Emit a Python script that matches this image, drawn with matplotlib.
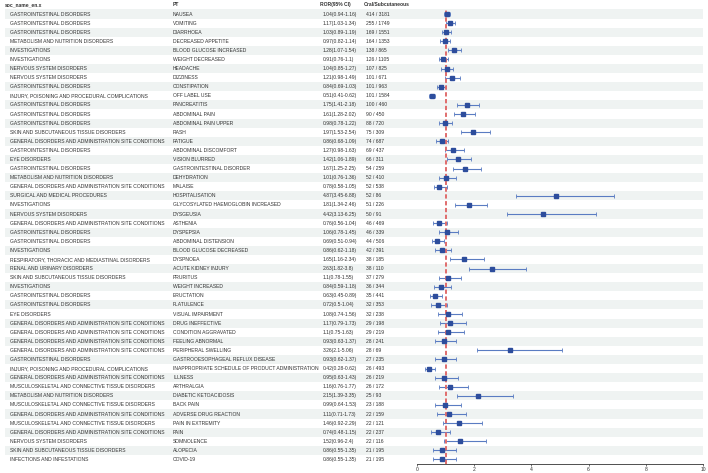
import numpy as np
import matplotlib.pyplot as plt

plt.rcParams['font.family'] = ['Liberation Sans', 'DejaVu Sans']

GI = 'GASTROINTESTINAL DISORDERS'
MET = 'METABOLISM AND NUTRITION DISORDERS'
INV = 'INVESTIGATIONS'
NERV = 'NERVOUS SYSTEM DISORDERS'
INJ = 'INJURY, POISONING AND PROCEDURAL COMPLICATIONS'
SKIN = 'SKIN AND SUBCUTANEOUS TISSUE DISORDERS'
GEN = 'GENERAL DISORDERS AND ADMINISTRATION SITE CONDITIONS'
EYE = 'EYE DISORDERS'
MUSC = 'MUSCULOSKELETAL AND CONNECTIVE TISSUE DISORDERS'

soc = [GI, GI, GI, MET, INV, INV, NERV, NERV, GI, INJ,
       GI, GI, GI, SKIN, GEN, GI, EYE, GI, MET, GEN,
       'SURGICAL AND MEDICAL PROCEDURES', INV, NERV, GEN, GI, GI, INV,
       'RESPIRATORY, THORACIC AND MEDIASTINAL DISORDERS',
       'RENAL AND URINARY DISORDERS', SKIN,
       INV, GI, GI, EYE, GEN, GEN, GEN, GEN, GI, INJ,
       GEN, MUSC, MET, MUSC, GEN, MUSC, GEN, NERV, SKIN,
       'INFECTIONS AND INFESTATIONS']

pt = ['NAUSEA', 'VOMITING', 'DIARRHOEA', 'DECREASED APPETITE',
      'BLOOD GLUCOSE INCREASED', 'WEIGHT DECREASED', 'HEADACHE', 'DIZZINESS',
      'CONSTIPATION', 'OFF LABEL USE', 'PANCREATITIS', 'ABDOMINAL PAIN',
      'ABDOMINAL PAIN UPPER', 'RASH', 'FATIGUE', 'ABDOMINAL DISCOMFORT',
      'VISION BLURRED', 'GASTROINTESTINAL DISORDER', 'DEHYDRATION', 'MALAISE',
      'HOSPITALISATION', 'GLYCOSYLATED HAEMOGLOBIN INCREASED', 'DYSGEUSIA',
      'ASTHENIA', 'DYSPEPSIA', 'ABDOMINAL DISTENSION',
      'BLOOD GLUCOSE DECREASED', 'DYSPNOEA', 'ACUTE KIDNEY INJURY', 'PRURITUS',
      'WEIGHT INCREASED', 'ERUCTATION', 'FLATULENCE', 'VISUAL IMPAIRMENT',
      'DRUG INEFFECTIVE', 'CONDITION AGGRAVATED', 'FEELING ABNORMAL',
      'PERIPHERAL SWELLING', 'GASTROOESOPHAGEAL REFLUX DISEASE',
      'INAPPROPRIATE SCHEDULE OF PRODUCT ADMINISTRATION', 'ILLNESS',
      'ARTHRALGIA', 'DIABETIC KETOACIDOSIS', 'BACK PAIN',
      'ADVERSE DRUG REACTION', 'PAIN IN EXTREMITY', 'PAIN', 'SOMNOLENCE',
      'ALOPECIA', 'COVID-19']

ror = [1.04, 1.17, 1.03, 0.97, 1.28, 0.91, 1.04, 1.21, 0.84, 0.51,
       1.75, 1.61, 0.98, 1.97, 0.86, 1.27, 1.42, 1.67, 1.01, 0.78,
       4.87, 1.81, 4.42, 0.76, 1.06, 0.69, 0.86, 1.65, 2.63, 1.1,
       0.84, 0.63, 0.72, 1.08, 1.17, 1.1, 0.93, 3.26, 0.93, 0.42,
       0.95, 1.16, 2.15, 0.99, 1.11, 1.46, 0.74, 1.52, 0.86, 0.86]
lower = [0.94, 1.03, 0.89, 0.82, 1.07, 0.76, 0.85, 0.98, 0.69, 0.41,
         1.41, 1.28, 0.78, 1.53, 0.68, 0.98, 1.06, 1.25, 0.76, 0.58,
         3.45, 1.34, 3.13, 0.56, 0.78, 0.51, 0.62, 1.16, 1.82, 0.78,
         0.59, 0.45, 0.5, 0.74, 0.79, 0.75, 0.63, 2.1, 0.62, 0.28,
         0.63, 0.76, 1.39, 0.64, 0.71, 0.92, 0.48, 0.96, 0.55, 0.55]
upper = [1.16, 1.34, 1.19, 1.14, 1.54, 1.1, 1.27, 1.49, 1.03, 0.62,
         2.18, 2.02, 1.22, 2.54, 1.09, 1.63, 1.89, 2.25, 1.36, 1.05,
         6.88, 2.46, 6.25, 1.04, 1.45, 0.94, 1.18, 2.34, 3.8, 1.55,
         1.18, 0.89, 1.04, 1.56, 1.73, 1.63, 1.37, 5.06, 1.37, 0.62,
         1.43, 1.77, 3.35, 1.53, 1.73, 2.29, 1.15, 2.4, 1.35, 1.35]
n_oral = [414, 255, 169, 164, 138, 126, 107, 101, 101, 101,
          100, 90, 88, 75, 74, 69, 66, 54, 52, 52,
          52, 51, 50, 46, 46, 44, 42, 38, 38, 37,
          36, 35, 32, 32, 29, 29, 28, 28, 27, 26,
          26, 26, 25, 23, 22, 22, 22, 22, 21, 21]
n_subq = [3181, 1749, 1551, 1353, 865, 1105, 825, 671, 963, 1584,
          460, 450, 720, 309, 687, 437, 311, 259, 410, 538,
          86, 226, 91, 469, 339, 506, 391, 185, 110, 279,
          344, 441, 353, 238, 198, 219, 241, 69, 235, 493,
          219, 172, 93, 188, 159, 121, 237, 116, 195, 195]

headers = ['soc_name_en.x', 'PT', 'ROR(95% CI)', 'Oral/Subcutaneous']
x_ticks = [0, 2, 4, 6, 8, 10]

W, H = 708, 473
fig = plt.figure(figsize=(W / 100, H / 100), dpi=100)

top_px, bot_px = 9.5, 464
ax_rect = [0, (H - bot_px) / H, 1, (bot_px - top_px) / H]
n = len(pt)
rows = np.arange(n)

# table part, x in pixels
ax_t = fig.add_axes(ax_rect)
ax_t.set_xlim(0, W)
ax_t.set_ylim(n - 0.5, -0.5)
ax_t.axis('off')
for i in rows:
    if i % 2 == 0:
        ax_t.axhspan(i - 0.5, i + 0.5, xmin=5 / W, xmax=703 / W,
                     color='#eff3f2', lw=0, zorder=0)

fs = 3.6
tc = '#333333'
col_x = [10, 173, 323, 366]
head_x = [5, 173, 320, 364]
for hx, h in zip(head_x, headers):
    ax_t.text(hx, -1, h, ha='left', va='center', fontsize=fs,
              fontweight='bold', color=tc, clip_on=False)

ror_txt = [f'{r:g}({lo:g}-{up:g})' for r, lo, up in zip(ror, lower, upper)]
cnt_txt = [f'{a} / {b}' for a, b in zip(n_oral, n_subq)]
for i in rows:
    for cx, col in zip(col_x, [soc, pt, ror_txt, cnt_txt]):
        ax_t.text(cx, i, col[i], ha='left', va='center', fontsize=fs,
                  color=tc)

# forest part
ax_f = fig.add_axes([417 / W, ax_rect[1], (703 - 417) / W, ax_rect[3]])
ax_f.patch.set_alpha(0)
ax_f.set_xlim(0, 10)
ax_f.set_ylim(n - 0.5, -0.5)
r = np.array(ror)
ax_f.errorbar(r, rows, xerr=[r - np.array(lower), np.array(upper) - r],
              fmt='none', ecolor='#5a7cc2', elinewidth=0.8, capsize=1.1,
              capthick=0.6, zorder=2)
ax_f.axvline(1, color='#e06c6c', ls=(0, (2.2, 1.3)), lw=1.4, zorder=3)
ax_f.plot(r, rows, 's', color='#2d4d9c', ms=3.4, zorder=4)

for s in ['top', 'right', 'left']:
    ax_f.spines[s].set_visible(False)
ax_f.spines['bottom'].set_linewidth(0.6)
ax_f.spines['bottom'].set_color('#333333')
ax_f.set_yticks([])
ax_f.set_xticks(x_ticks)
ax_f.tick_params(axis='x', labelsize=fs, length=1.5, width=0.5, pad=0.8,
                 colors='#333333')

fig.savefig('out.png', dpi=100)
